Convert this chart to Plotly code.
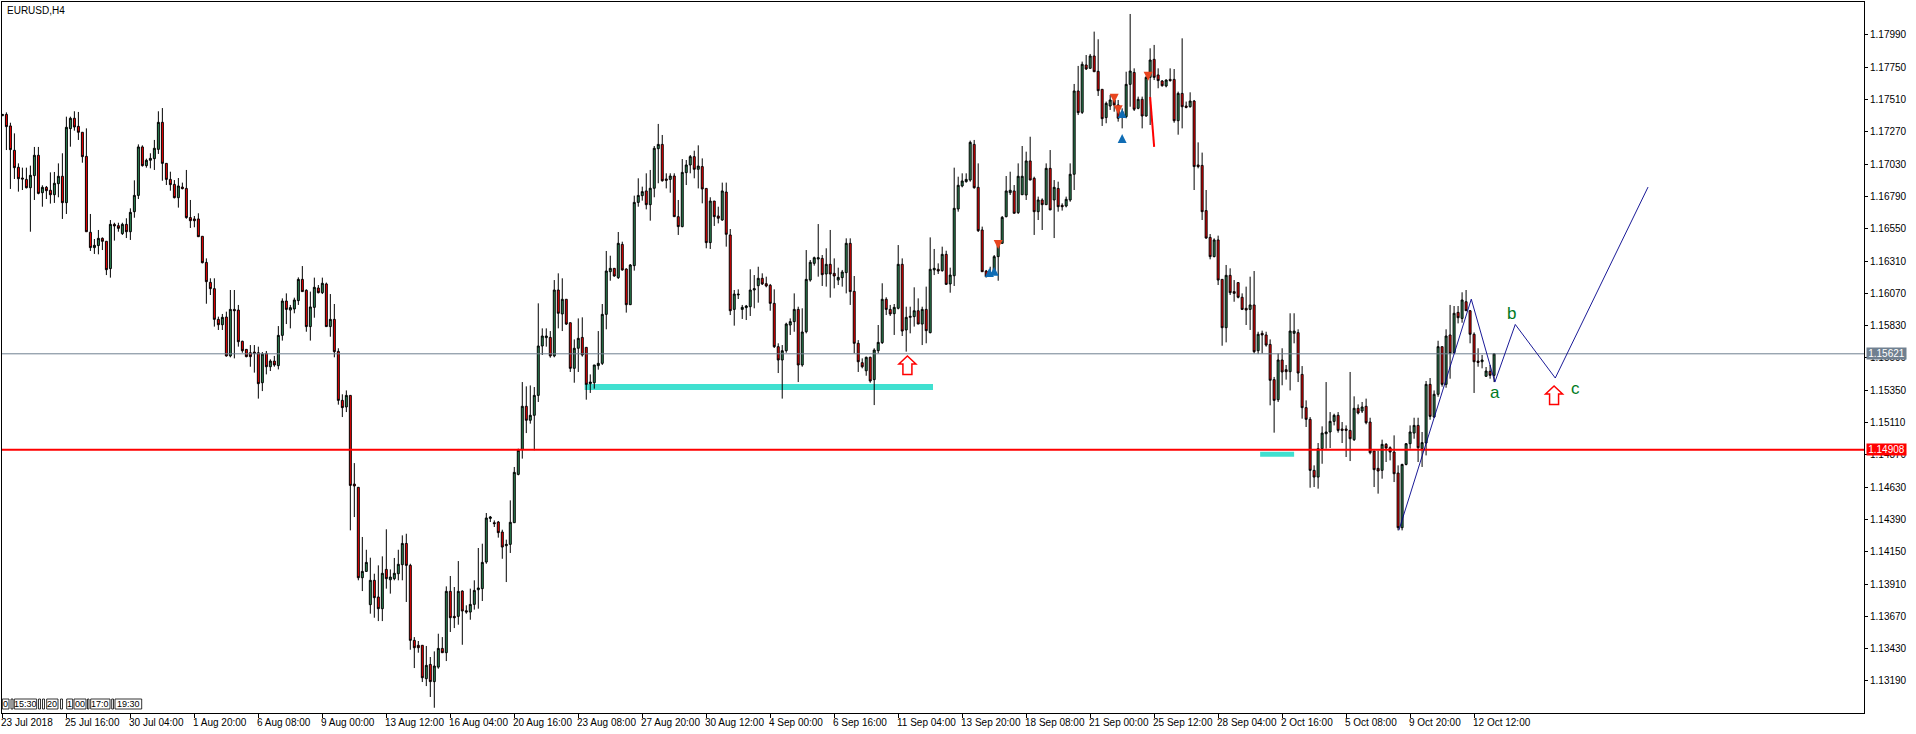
import numpy as np
import plotly.graph_objects as go

# EURUSD H4 prices in points (1e-5)
opens = [117390,117400,117314,117133,117007,116927,116917,116855,116945,117096,
116818,116858,116836,116803,116885,116940,116744,117294,117371,117311,
117267,117088,116524,116410,116425,116479,116457,116254,116583,116573,
116514,116583,116528,116677,116798,117158,117019,117059,117071,117140,
117341,117036,116917,116880,116781,116860,116850,116633,116623,116623,
116494,116300,116152,116105,115877,115837,115894,115605,115951,115946,
115714,115654,115629,115634,115629,115406,115624,115525,115567,115533,
115758,116013,115946,115954,116016,116174,116093,115823,115966,116110,
116075,116140,115823,115877,115639,115275,115226,115312,114653,114629,
113957,114004,113757,113938,113814,113727,114019,113942,113950,113987,
114054,114212,114049,113492,113455,113455,113207,113313,113185,113293,
113432,113400,113856,113670,113670,113858,113712,113702,113759,113868,
113876,114074,114398,114366,114371,114297,114195,114205,114366,114725,
114909,115231,115127,115164,115312,115679,115741,115743,115605,116095,
115917,116026,115852,115513,115662,115743,115669,115399,115406,115533,
115550,115914,116231,116256,116187,116434,116251,115986,116276,116746,
116796,116831,116729,116851,117145,117177,116920,116917,116942,116640,
116566,116967,117024,117086,116992,117012,116850,116447,116756,116645,
116615,116823,116504,115951,116065,115951,115964,115971,116095,116127,
116182,116142,116130,115996,115674,115575,115644,115835,115860,115951,
115538,115785,116169,116293,116325,116330,116214,116286,116219,116169,
116187,116224,116442,116085,115699,115555,115495,115595,115429,115644,
115704,116026,115951,115919,115959,116286,115798,115892,115897,115941,
115842,115951,115778,116244,116249,116239,116360,116140,116201,116697,
116868,116900,116912,117177,116858,116541,116236,116224,116231,116343,
116442,116640,116818,116831,116670,116803,116801,117054,116925,116677,
116764,116729,116999,116764,116850,116724,116719,116764,116955,117574,
117415,117767,117742,117834,117720,117586,117376,117462,117507,117470,
117383,117383,117623,117712,117445,117512,117388,117675,117809,117693,
117648,117611,117660,117660,117353,117556,117462,117457,117499,117024,
117021,116685,116486,116343,116467,116174,115815,116204,116083,116150,
116041,115959,115951,115984,115644,115773,115761,115691,115429,115280,
115575,115503,115488,115773,115778,115468,115221,115134,114755,114705,
114916,115027,115040,115119,115164,115062,115062,115052,114983,115216,
115196,115231,115114,114899,114770,114755,114948,114923,114891,114735,
114329,114799,114953,115032,115089,114916,114958,115394,115151,115320,
115674,115394,115761,115629,115929,115884,116008,115941,115766,115567,
115562,115454,115491,115461]
highs = [117400,117415,117338,117259,117036,117004,117004,117019,117158,117158,
116873,116868,116969,116972,117036,117111,117383,117383,117423,117418,
117267,117296,116660,116474,116541,116486,116457,116615,116595,116595,
116595,116628,116702,116910,117177,117170,117071,117111,117210,117423,
117447,117036,116974,116912,116927,116893,116987,116764,116645,116665,
116494,116330,116182,116182,115897,115917,115934,116095,116095,115984,
115718,115654,115686,115686,115674,115634,115642,115580,115605,115827,
116033,116070,115984,116038,116189,116273,116100,116083,116187,116132,
116187,116150,116065,115991,115662,115320,115349,115312,114809,114629,
114260,114165,114106,113987,114049,114116,114317,114019,114104,114165,
114272,114284,114061,113516,113487,113455,113450,113368,113410,113541,
113516,113893,113970,113888,114081,113863,113752,113876,113938,114178,
114210,114438,114416,114383,114379,114314,114240,114532,114780,114916,
115411,115379,115386,115374,115996,115810,115810,115790,116169,116219,
116182,116026,115852,115728,115884,115892,115669,115468,115538,115790,
115991,116385,116350,116256,116526,116454,116256,116288,116796,116925,
116863,116962,116987,117165,117329,117247,116962,116962,116962,116764,
117068,117061,117098,117130,117170,117073,116850,116784,116756,116714,
116893,116893,116548,116095,116100,115984,115984,116249,116206,116268,
116219,116194,116140,116100,115699,115686,115852,115884,116070,115971,
115959,116392,116318,116343,116585,116355,116405,116541,116330,116261,
116244,116479,116479,116199,115723,115587,115600,115600,115662,115835,
116145,116041,115984,115991,116429,116330,115971,115971,116115,116033,
115971,116120,116486,116400,116293,116417,116387,116261,117004,116937,
116962,116962,117205,117210,117036,116566,116244,116268,116355,116454,
116645,116942,116974,116875,117036,117165,117123,117234,116937,116789,
116776,117036,117135,116912,116900,116739,116789,117036,117626,117760,
117792,117841,117849,118015,117958,117586,117495,117544,117519,117507,
117445,117717,118146,117742,117532,117532,117685,117891,117916,117742,
117655,117660,117742,117737,117569,117965,117495,117564,117507,117192,
117116,116838,116511,116479,116499,116174,116281,116256,116169,116150,
116070,116120,116194,116236,115785,115793,115785,115728,115449,115624,
115662,115538,115922,115922,115803,115530,115275,115151,114792,114958,
115082,115411,115188,115176,115188,115114,115089,115486,115305,115245,
115263,115288,115146,114899,114901,114983,114958,114933,115015,114792,
114804,114958,115089,115146,115146,115040,115419,115441,115349,115718,
115674,115803,115984,115976,115976,116078,116095,115946,115780,115662,
115612,115523,115538,115624]
lows = [117390,117135,116846,116920,116826,116838,116850,116528,116764,116806,
116714,116771,116737,116742,116784,116623,116660,117160,117279,117210,
117041,116528,116385,116363,116360,116392,116206,116187,116462,116528,
116504,116481,116467,116632,116771,117012,117004,116999,116987,117106,
116907,116875,116833,116776,116707,116843,116625,116556,116561,116489,
116293,115993,116058,115823,115798,115798,115600,115595,115587,115674,
115629,115595,115525,115481,115288,115344,115468,115493,115525,115505,
115719,115842,115810,115922,115984,116083,115785,115719,115889,116070,
116065,115823,115748,115595,115243,115151,115188,114309,114408,113938,
113858,114002,113690,113660,113635,113635,113876,113839,113938,113938,
113938,113777,113422,113286,113400,113182,113152,113071,112991,113281,
113400,113338,113554,113583,113608,113459,113690,113645,113720,113727,
113784,114061,114371,114334,114255,114098,113925,114141,114366,114718,
114842,115032,115102,114904,115263,115612,115674,115592,115595,115810,
115790,115835,115486,115406,115486,115600,115280,115330,115362,115503,
115538,115803,116164,116194,116177,116239,115927,115984,116239,116714,
116759,116694,116610,116784,116888,116900,116850,116818,116640,116504,
116561,116875,116962,116925,116850,116739,116405,116400,116571,116590,
116610,116417,115909,115830,116028,115880,115872,115902,115959,116001,
116132,116115,115941,115664,115478,115288,115629,115761,115785,115411,
115525,115773,116157,116276,116194,116125,116120,116038,116107,116132,
116120,116070,115984,115624,115486,115513,115458,115406,115240,115624,
115694,115909,115902,115761,115951,115753,115637,115773,115823,115842,
115686,115699,115773,116206,116214,116231,116132,116075,116125,116677,
116858,116893,116900,116848,116526,116231,116189,116202,116214,116164,
116437,116635,116801,116665,116660,116801,116764,116912,116504,116615,
116541,116727,116690,116481,116677,116685,116709,116751,116838,117395,
117403,117730,117742,117717,117537,117314,117334,117433,117420,117346,
117296,117371,117457,117425,117438,117296,117383,117321,117655,117594,
117606,117601,117643,117338,117249,117296,117445,117450,116838,116999,
116615,116476,116323,116338,116132,115681,115706,116058,116008,116033,
115946,115835,115798,115624,115619,115624,115674,115238,115035,115263,
115387,115429,115349,115699,115411,115139,115077,114626,114631,114619,
114804,114916,114921,115089,115035,114958,114854,114824,114973,115171,
115181,115097,114874,114631,114582,114693,114817,114829,114668,114309,
114309,114792,114916,114990,114817,114780,114866,115131,115146,115302,
115377,115369,115436,115624,115847,115852,115941,115699,115330,115525,
115513,115449,115436,115411]
closes = [117400,117309,117138,117004,116922,116920,116855,116947,117096,116813,
116858,116833,116803,116888,116940,116744,117304,117371,117306,117267,
117086,116528,116410,116427,116479,116457,116246,116583,116571,116553,
116583,116528,116672,116798,117158,117019,117059,117073,117148,117341,
117036,116917,116878,116781,116868,116848,116633,116610,116610,116491,
116298,116157,116105,115877,115837,115892,115605,115951,115941,115711,
115644,115600,115600,115624,115399,115619,115525,115567,115538,115758,
116013,115951,115964,116021,116174,116083,115823,115969,116115,116075,
116145,115823,115877,115637,115275,115221,115312,114643,114639,113957,
114004,114071,113938,113809,113727,113990,113950,113962,113990,114057,
114212,114049,113492,113437,113437,113214,113306,113185,113301,113432,
113400,113856,113660,113660,113856,113710,113702,113759,113863,113881,
114071,114401,114408,114359,114292,114185,114205,114369,114740,114904,
115231,115127,115164,115312,115679,115753,115753,115605,116095,115922,
116026,115842,115513,115662,115736,115612,115394,115411,115538,115550,
115914,116236,116256,116199,116442,116244,115986,116281,116746,116798,
116826,116729,116851,117148,117177,116907,116910,116942,116640,116566,
116969,117024,117086,116992,117016,116846,116447,116756,116640,116628,
116831,116509,115941,116065,116060,115966,115976,116095,116105,116182,
116140,116125,115996,115674,115575,115644,115842,115860,115951,115538,
115783,116174,116301,116335,116335,116209,116286,116214,116199,116189,
116229,116442,116083,115699,115562,115525,115595,115419,115649,115706,
116026,115951,115917,115966,116286,115790,115892,115899,115941,115842,
115951,115793,116249,116256,116236,116360,116137,116206,116702,116873,
116905,116917,117192,116855,116536,116231,116194,116209,116343,116429,
116635,116831,116836,116665,116940,116940,117054,116912,116677,116764,
116729,116999,116690,116858,116714,116714,116769,116955,117574,117413,
117772,117737,117834,117717,117576,117368,117482,117507,117470,117371,
117420,117623,117722,117438,117512,117388,117675,117804,117675,117651,
117613,117655,117651,117353,117556,117457,117452,117499,117012,117012,
116677,116481,116343,116467,116169,115815,116204,116075,116070,116041,
115951,115946,115984,115637,115766,115761,115686,115424,115275,115575,
115486,115488,115790,115790,115478,115221,115134,114755,114705,114916,
115032,115040,115119,115164,115052,115052,115052,114990,115216,115181,
115226,115109,114886,114760,114750,114948,114921,114891,114730,114329,
114799,114953,115040,115089,114923,114961,115394,115156,115320,115674,
115394,115753,115624,115922,115889,116021,115941,115766,115562,115557,
115575,115493,115461,115621]

bar_index = list(range(len(opens)))

x_tick_bars = list(range(0, 369, 16))
x_tick_labels = ["23 Jul 2018","25 Jul 16:00","30 Jul 04:00","1 Aug 20:00","6 Aug 08:00","9 Aug 00:00",
                 "13 Aug 12:00","16 Aug 04:00","20 Aug 16:00","23 Aug 08:00","27 Aug 20:00","30 Aug 12:00",
                 "4 Sep 00:00","6 Sep 16:00","11 Sep 04:00","13 Sep 20:00","18 Sep 08:00","21 Sep 00:00",
                 "25 Sep 12:00","28 Sep 04:00","2 Oct 16:00","5 Oct 08:00","9 Oct 20:00","12 Oct 12:00"]
y_ticks = [1.17990,1.17750,1.17510,1.17270,1.17030,1.16790,1.16550,1.16310,1.16070,1.15830,1.15590,
           1.15350,1.15110,1.14870,1.14630,1.14390,1.14150,1.13910,1.13670,1.13430,1.13190]

last_price = 1.15621
level_price = 1.14908
zone_bars = [[145.6, 232.7], [314.5, 323.0]]
zone_prices = [1.15374, 1.14875]
zone_widths = [6, 5]

path_bars = [349.2, 367.3, 373.2, 378.3, 388.3, 411.5]
path_prices = [1.14310, 1.16027, 1.15411, 1.15839, 1.15441, 1.16860]
letters = ["a", "b", "c"]
letter_bars = [373.3, 377.4, 393.4]
letter_prices = [1.15335, 1.15922, 1.15362]
arrow_bars = [226.3, 388.0]
arrow_prices = [1.15605, 1.15382]
down_mark_bars = [278, 279, 286.5, 249]
down_mark_prices = [1.17487, 1.17401, 1.17650, 1.16400]
up_mark_bars = [280, 280, 248, 246.8]
up_mark_prices = [1.17440, 1.17254, 1.16268, 1.16258]
step_bars = [287, 287.2, 287.2, 287.5, 287.5, 287.75, 287.75, 288]
step_prices = [1.17529, 1.17440, 1.17440, 1.17343, 1.17343, 1.17254, 1.17254, 1.17158]

W, H = 1916, 734
L, R, T, B = 2, 52, 2, 21
pw, ph = W - L - R, H - T - B
FONT = "Liberation Sans"

fig = go.Figure()
fig.add_trace(go.Candlestick(
    x=bar_index,
    open=np.array(opens) / 1e5, high=np.array(highs) / 1e5,
    low=np.array(lows) / 1e5, close=np.array(closes) / 1e5,
    increasing=dict(line=dict(color="#000000", width=1), fillcolor="#2E8B57"),
    decreasing=dict(line=dict(color="#000000", width=1), fillcolor="#FF0000"),
    whiskerwidth=0, hoverinfo="skip", showlegend=False))
xend = 465.5
fig.add_trace(go.Scatter(x=[-0.1, xend], y=[last_price] * 2, mode="lines",
                         line=dict(color="#708090", width=1), hoverinfo="skip", showlegend=False))
fig.add_trace(go.Scatter(x=[-0.1, xend], y=[level_price] * 2, mode="lines",
                         line=dict(color="#FF0000", width=2), hoverinfo="skip", showlegend=False))
fig.add_trace(go.Scatter(x=path_bars, y=path_prices, mode="lines",
                         line=dict(color="#00008B", width=0.9), hoverinfo="skip", showlegend=False))
fig.add_trace(go.Scatter(x=step_bars, y=step_prices, mode="lines",
                         line=dict(color="#FF0000", width=2), hoverinfo="skip", showlegend=False))
fig.add_trace(go.Scatter(x=down_mark_bars, y=down_mark_prices, mode="markers",
                         marker=dict(symbol="arrow-down", size=9, color="#E8451F", line=dict(width=0)),
                         hoverinfo="skip", showlegend=False))
fig.add_trace(go.Scatter(x=up_mark_bars, y=up_mark_prices, mode="markers",
                         marker=dict(symbol="arrow-up", size=9, color="#0F6CB4", line=dict(width=0)),
                         hoverinfo="skip", showlegend=False))

shapes = []
for (x0, x1), p, w in zip(zone_bars, zone_prices, zone_widths):
    shapes.append(dict(type="line", layer="below", xref="x", yref="y", x0=x0, x1=x1, y0=p, y1=p,
                       line=dict(color="#40E0D0", width=w)))
arrow_path = "M 0 0 L 8.5 -8 L 4.5 -8 L 4.5 -18.5 L -4.5 -18.5 L -4.5 -8 L -8.5 -8 Z"
for x, p in zip(arrow_bars, arrow_prices):
    shapes.append(dict(type="path", xref="x", yref="y", xsizemode="pixel", ysizemode="pixel",
                       xanchor=x, yanchor=p, path=arrow_path, fillcolor="#FFFFFF",
                       line=dict(color="#FF0000", width=1.5)))
ann = []
for b, t in zip(x_tick_bars, x_tick_labels):
    ann.append(dict(x=b, y=0, xref="x", yref="paper", text=t, showarrow=False, xanchor="left", yanchor="top",
                    xshift=-3, yshift=-2, font=dict(family=FONT, size=10, color="#000000")))
for t, b, p in zip(letters, letter_bars, letter_prices):
    ann.append(dict(x=b, y=p, xref="x", yref="y", text=t, showarrow=False,
                    font=dict(family=FONT, size=17, color="#007A1E")))
ann.append(dict(x=3 / pw, y=1 - 8 / ph, xref="paper", yref="paper", text="EURUSD,H4", showarrow=False,
                xanchor="left", yanchor="middle", font=dict(family=FONT, size=10, color="#000000")))
for price, txt, col in [(last_price, "1.15621", "#708090"), (level_price, "1.14908", "#FF0000")]:
    ann.append(dict(x=1, y=price, xref="paper", yref="y", text=txt, showarrow=False, xanchor="left",
                    xshift=2, width=39, height=11, bgcolor=col, borderpad=0,
                    font=dict(family=FONT, size=10, color="#FFFFFF")))

# small time tags at bottom left (pixels converted to paper fractions)
tag_boxes = [("0", 2.3, 9), ("15:30", 14.3, 36.7), ("20", 46.7, 58), ("1", 66.7, 72.7), ("00", 74, 86),
             ("17:0", 90.7, 110), ("19:30", 115, 141.7)]
empty_boxes = [(11, 13), (38.5, 40.5), (42.5, 44.5), (60.5, 62.5), (87.5, 89), (111.7, 113.5)]
ytop, ybot = 699, 709
def fx(px): return (px - L) / pw
def fy(py): return (H - B - py) / ph
for t, x0, x1 in tag_boxes:
    ann.append(dict(x=fx((x0 + x1) / 2), y=fy((ytop + ybot) / 2), xref="paper", yref="paper", text=t,
                    xanchor="center", yanchor="middle", showarrow=False, borderpad=0,
                    font=dict(family=FONT, size=9, color="#000000")))
    shapes.append(dict(type="rect", xref="paper", yref="paper", x0=fx(x0), x1=fx(x1), y0=fy(ybot), y1=fy(ytop),
                       line=dict(color="#000000", width=0.8)))
for x0, x1 in empty_boxes:
    shapes.append(dict(type="rect", xref="paper", yref="paper", x0=fx(x0), x1=fx(x1), y0=fy(ybot), y1=fy(ytop),
                       line=dict(color="#000000", width=0.8)))

fig.update_layout(
    width=W, height=H, margin=dict(l=L, r=R, t=T, b=B), paper_bgcolor="#FFFFFF", plot_bgcolor="#FFFFFF",
    showlegend=False, boxgap=0.3, shapes=shapes, annotations=ann, hovermode=False,
    font=dict(family=FONT, size=10, color="#000000"),
    xaxis=dict(range=[-0.1, xend], tickmode="array", tickvals=x_tick_bars, ticktext=[""] * len(x_tick_bars),
               ticks="outside", ticklen=4, tickcolor="#000000", showgrid=False, zeroline=False,
               showline=True, linecolor="#000000", linewidth=1, mirror=True, rangeslider=dict(visible=False)),
    yaxis=dict(range=[1.12952, 1.18235], side="right", tickmode="array", tickvals=y_ticks,
               tickformat=".5f", ticks="outside", ticklen=3, tickcolor="#000000", showgrid=False, zeroline=False,
               tickfont=dict(family=FONT, size=10, color="#000000"),
               showline=True, linecolor="#000000", linewidth=1, mirror=True),
)
fig.write_html("out.html", config=dict(displayModeBar=False),
               post_script="document.body.style.margin='0';document.body.style.overflow='hidden';")
